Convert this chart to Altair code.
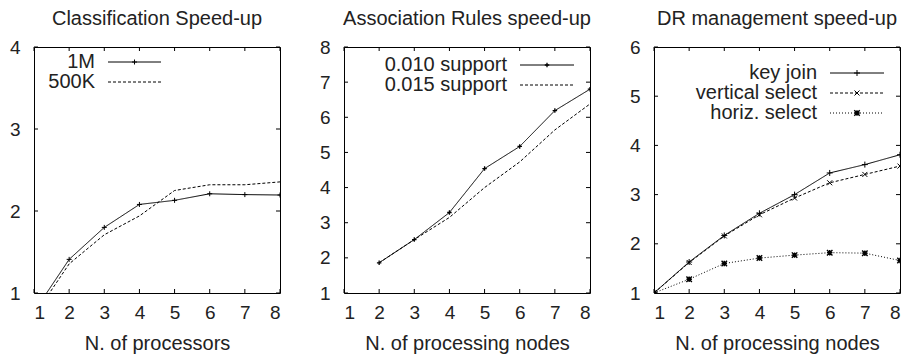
import altair as alt
import pandas as pd

# ---------------- data ----------------
x_all = [1, 2, 3, 4, 5, 6, 7, 8]

cls_1m = [0.77, 1.41, 1.80, 2.08, 2.13, 2.21, 2.20, 2.195]
cls_500k = [0.72, 1.355, 1.71, 1.94, 2.25, 2.32, 2.32, 2.355]

ar_x = [2, 3, 4, 5, 6, 7, 8]
ar_010 = [1.86, 2.52, 3.29, 4.54, 5.17, 6.19, 6.80]
ar_015 = [1.86, 2.52, 3.15, 4.00, 4.73, 5.64, 6.38]

dr_key = [1.0, 1.63, 2.17, 2.62, 3.00, 3.44, 3.61, 3.81]
dr_vert = [1.0, 1.62, 2.16, 2.59, 2.93, 3.24, 3.41, 3.58]
dr_horiz = [1.0, 1.28, 1.60, 1.71, 1.77, 1.82, 1.81, 1.66]

x_ticks = [1, 2, 3, 4, 5, 6, 7, 8]

# ---------------- style ----------------
W = H = 246
FONT = "Liberation Sans"
TL = 4  # inward tick length
PLUS = "M-1,0L1,0M0,-1L0,1"
CROSS = "M-1,-1L1,1M-1,1L1,-1"
STAR = "M-1,-1L1,1M-1,1L1,-1M-1,0L1,0M0,-1L0,1"
SOLID = [1, 0]
DASH = [3, 2]
DOT = [1, 2]


def one():
    return pd.DataFrame({"a": [0]})


def panel(title, xtitle, ymax, series, legend):
    y_ticks = list(range(1, ymax + 1))
    xs = alt.Scale(domain=[1, 8], nice=False)
    ys = alt.Scale(domain=[1, ymax], nice=False)
    xaxis = alt.Axis(values=x_ticks, format="d", title=xtitle, ticks=False,
                     domain=False, grid=False, labelPadding=10,
                     titlePadding=11)
    yaxis = alt.Axis(values=y_ticks, format="d", title=None, ticks=False,
                     domain=False, grid=False, labelPadding=14)

    def X():
        return alt.X("x:Q", scale=xs, axis=xaxis)

    def Y():
        return alt.Y("y:Q", scale=ys, axis=yaxis)

    layers = []
    # inward ticks on all four sides
    xt = alt.Chart(pd.DataFrame({"x": x_ticks}))
    yt = alt.Chart(pd.DataFrame({"y": y_ticks}))
    layers.append(xt.mark_rule(color="black", strokeWidth=1).encode(
        x=X(), y=alt.value(H), y2=alt.value(H - TL)))
    layers.append(xt.mark_rule(color="black", strokeWidth=1).encode(
        x=X(), y=alt.value(0), y2=alt.value(TL)))
    layers.append(yt.mark_rule(color="black", strokeWidth=1).encode(
        y=Y(), x=alt.value(0), x2=alt.value(TL)))
    layers.append(yt.mark_rule(color="black", strokeWidth=1).encode(
        y=Y(), x=alt.value(W), x2=alt.value(W - TL)))

    for xs_, ys_, dash, shape, msize, mw in series:
        df = pd.DataFrame({"x": xs_, "y": ys_})
        c = alt.Chart(df)
        layers.append(c.mark_line(color="black", strokeWidth=1,
                                  strokeDash=dash, clip=True).encode(x=X(), y=Y()))
        if shape:
            layers.append(c.mark_point(shape=shape, filled=False, color="black",
                                       size=msize, strokeWidth=mw, opacity=1,
                                       clip=True).encode(x=X(), y=Y()))

    tx, lx1, lx2 = legend["tx"], legend["lx1"], legend["lx2"]
    for label, ry, dash, shape, msize, mw in legend["rows"]:
        layers.append(alt.Chart(one()).mark_text(
            align="right", baseline="middle", font=FONT, fontSize=20,
            color="#222").encode(x=alt.value(tx), y=alt.value(ry),
                                 text=alt.value(label)))
        layers.append(alt.Chart(one()).mark_rule(
            color="black", strokeWidth=1, strokeDash=dash).encode(
            x=alt.value(lx1), x2=alt.value(lx2), y=alt.value(ry)))
        if shape:
            layers.append(alt.Chart(one()).mark_point(
                shape=shape, filled=False, color="black", size=msize,
                strokeWidth=mw, opacity=1).encode(
                x=alt.value((lx1 + lx2) / 2), y=alt.value(ry)))

    return alt.layer(*layers).properties(
        width=W, height=H,
        title=alt.Title(title, fontSize=20, font=FONT, fontWeight="normal",
                        color="#222", offset=9, anchor="middle"))


p1 = panel(
    "Classification Speed-up", "N. of processors", 4,
    [(x_all, cls_1m, SOLID, PLUS, 25, 1),
     (x_all, cls_500k, DASH, None, 0, 1)],
    {"tx": 61, "lx1": 74, "lx2": 127,
     "rows": [("1M", 15, SOLID, PLUS, 25, 1),
              ("500K", 35, DASH, None, 0, 1)]})

p2 = panel(
    "Association Rules speed-up", "N. of processing nodes", 8,
    [(ar_x, ar_010, SOLID, PLUS, 20, 1.3),
     (ar_x, ar_015, DASH, None, 0, 1)],
    {"tx": 163, "lx1": 176, "lx2": 230,
     "rows": [("0.010 support", 18, SOLID, PLUS, 20, 1.3),
              ("0.015 support", 38, DASH, None, 0, 1)]})

p3 = panel(
    "DR management speed-up", "N. of processing nodes", 6,
    [(x_all, dr_key, SOLID, PLUS, 36, 1),
     (x_all, dr_vert, DASH, CROSS, 25, 1),
     (x_all, dr_horiz, DOT, STAR, 30, 1.4)],
    {"tx": 163, "lx1": 176, "lx2": 230,
     "rows": [("key join", 26, SOLID, PLUS, 36, 1),
              ("vertical select", 46, DASH, CROSS, 25, 1),
              ("horiz. select", 66, DOT, STAR, 30, 1.4)]})

chart = alt.hconcat(p1, p2, p3, spacing=64, bounds="flush").properties(
    padding=0
).configure_view(stroke="black", strokeWidth=1).configure_axis(
    labelFont=FONT, labelFontSize=19, labelColor="#222",
    titleFont=FONT, titleFontSize=20, titleFontWeight="normal", titleColor="#222"
)

chart.save("out.html", embed_options={"renderer": "svg", "actions": False})
